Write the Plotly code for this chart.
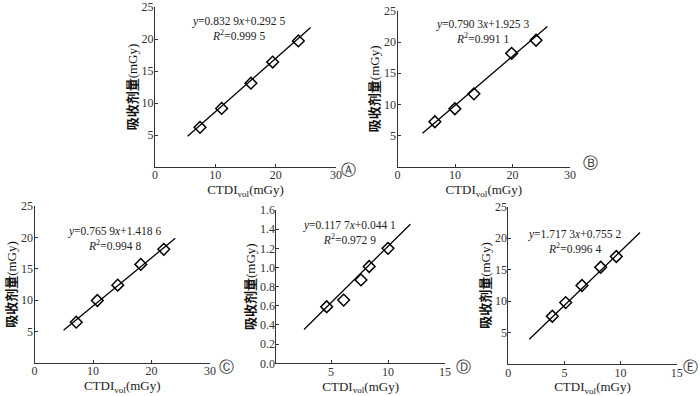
import plotly.graph_objects as go

# ---- data ----
panels = ["A", "B", "C", "D", "E"]
ctdi_A = [7.46, 11.05, 15.9, 19.5, 23.76]
dose_A = [6.2, 9.15, 13.1, 16.4, 19.7]
ctdi_B = [6.5, 9.98, 13.29, 19.85, 24.09]
dose_B = [7.22, 9.3, 11.7, 18.2, 20.3]
ctdi_C = [7.14, 10.74, 14.23, 18.17, 22.1]
dose_C = [6.5, 9.95, 12.4, 15.7, 18.1]
ctdi_D = [4.62, 6.11, 7.63, 8.35, 10.0]
dose_D = [0.59, 0.66, 0.87, 1.01, 1.20]
ctdi_E = [3.92, 5.11, 6.56, 8.23, 9.62]
dose_E = [7.62, 9.79, 12.5, 15.4, 17.1]

slopes = [0.8329, 0.7903, 0.7659, 0.1177, 1.7173]
intercepts = [0.2925, 1.9253, 1.4186, 0.0441, 0.7552]
fit_x_start = [5.4, 4.35, 4.97, 2.63, 1.87]
fit_x_end = [25.8, 26.06, 24.06, 11.96, 11.73]

eq_text = [
    "<i>y</i>=0.832 9<i>x</i>+0.292 5<br><i>R</i><sup>2</sup>=0.999 5",
    "<i>y</i>=0.790 3<i>x</i>+1.925 3<br><i>R</i><sup>2</sup>=0.991 1",
    "<i>y</i>=0.765 9<i>x</i>+1.418 6<br><i>R</i><sup>2</sup>=0.994 8",
    "<i>y</i>=0.117 7<i>x</i>+0.044 1<br><i>R</i><sup>2</sup>=0.972 9",
    "<i>y</i>=1.717 3<i>x</i>+0.755 2<br><i>R</i><sup>2</sup>=0.996 4",
]
circ_labels = ["Ⓐ", "Ⓑ", "Ⓒ", "Ⓓ", "Ⓔ"]

x_ranges = [[0, 30], [0, 30], [0, 30], [0.2, 15], [0, 15]]
y_ranges = [[0, 25], [0, 25], [0, 25], [0, 1.6], [0, 25]]
x_ticks = [[0, 10, 20, 30], [0, 10, 20, 30], [0, 10, 20, 30], [5, 10, 15], [0, 5, 10, 15]]
y_ticks = [[5, 10, 15, 20, 25]] * 3 + [[0, 0.2, 0.4, 0.6, 0.8, 1.0, 1.2, 1.4, 1.6]] + [[5, 10, 15, 20, 25]]
y_ticktext = [None, None, None, ["0.0", "0.2", "0.4", "0.6", "0.8", "1.0", "1.2", "1.4", "1.6"], None]

xs = [ctdi_A, ctdi_B, ctdi_C, ctdi_D, ctdi_E]
ys = [dose_A, dose_B, dose_C, dose_D, dose_E]

# ---- layout (pixel boxes) ----
W, H = 700, 396
boxes = [  # left, right, top, bottom in px
    (155, 336, 7, 167),
    (397.5, 570, 11, 166.7),
    (34.5, 210, 206, 363),
    (276.3, 445, 210, 363.3),
    (508.3, 676.7, 206.7, 364.3),
]
eq_pos = [(238, 28), (483, 31), (114, 238), (349, 232), (574, 241)]
circ_pos = [(348, 170), (590, 163), (226, 367), (463, 367), (690, 367)]

FONT = "Liberation Serif, Times New Roman, serif"
MIXED = "Liberation Serif, Noto Sans CJK SC, serif"

fig = go.Figure()
layout = dict(
    template="none",
    width=W, height=H, margin=dict(l=0, r=0, t=0, b=0, autoexpand=False),
    paper_bgcolor="white", plot_bgcolor="white", showlegend=False,
    font=dict(family=FONT, size=11, color="#222"),
)
annotations = []
for i in range(5):
    sfx = "" if i == 0 else str(i + 1)
    xa, ya = "x" + sfx, "y" + sfx
    l, r, t, b = boxes[i]
    fx = [fit_x_start[i], fit_x_end[i]]
    fy = [slopes[i] * v + intercepts[i] for v in fx]
    fig.add_trace(go.Scatter(x=fx, y=fy, mode="lines", line=dict(color="black", width=1.3),
                             xaxis=xa, yaxis=ya, hoverinfo="skip"))
    fig.add_trace(go.Scatter(x=xs[i], y=ys[i], mode="markers",
                             marker=dict(symbol="diamond-open", size=9, color="black",
                                         line=dict(width=1.5, color="black")),
                             xaxis=xa, yaxis=ya))
    axis_common = dict(showgrid=False, zeroline=False, showline=True, linecolor="#333",
                       linewidth=1, ticks="inside", ticklen=3, tickcolor="#333",
                       automargin=False,
                       tickfont=dict(family=FONT, size=12, color="#333"))
    layout["xaxis" + sfx] = dict(
        domain=[l / W, r / W], range=x_ranges[i], tickvals=x_ticks[i],
        anchor=ya, ticklabelstandoff=-3,
        title=dict(text="CTDI<sub>vol</sub>(mGy)", font=dict(family=FONT, size=13, color="#222"), standoff=0),
        **axis_common)
    yd = dict(
        domain=[1 - b / H, 1 - t / H], range=y_ranges[i], tickvals=y_ticks[i],
        anchor=xa, ticklabelstandoff=-2,
        title=dict(text="<b>吸收剂量</b>(mGy)", font=dict(family=MIXED, size=13, color="#111"), standoff=1),
        **axis_common)
    if y_ticktext[i] is not None:
        yd["ticktext"] = y_ticktext[i]
    layout["yaxis" + sfx] = yd
    ex, ey = eq_pos[i]
    annotations.append(dict(x=ex / W, y=1 - ey / H, xref="paper", yref="paper", text=eq_text[i],
                            xanchor="center", yanchor="middle",
                            showarrow=False, align="center",
                            font=dict(family=FONT, size=11.5, color="#222")))
    cx, cy = circ_pos[i]
    annotations.append(dict(x=cx / W, y=1 - cy / H, xref="paper", yref="paper", text=circ_labels[i],
                            xanchor="center", yanchor="middle",
                            showarrow=False, font=dict(family="DejaVu Sans", size=15, color="#333")))
layout["annotations"] = annotations
fig.update_layout(**layout)
fig.write_html("out.html", config={"displayModeBar": False},
               post_script="document.body.style.margin='0';document.body.style.padding='0';")
